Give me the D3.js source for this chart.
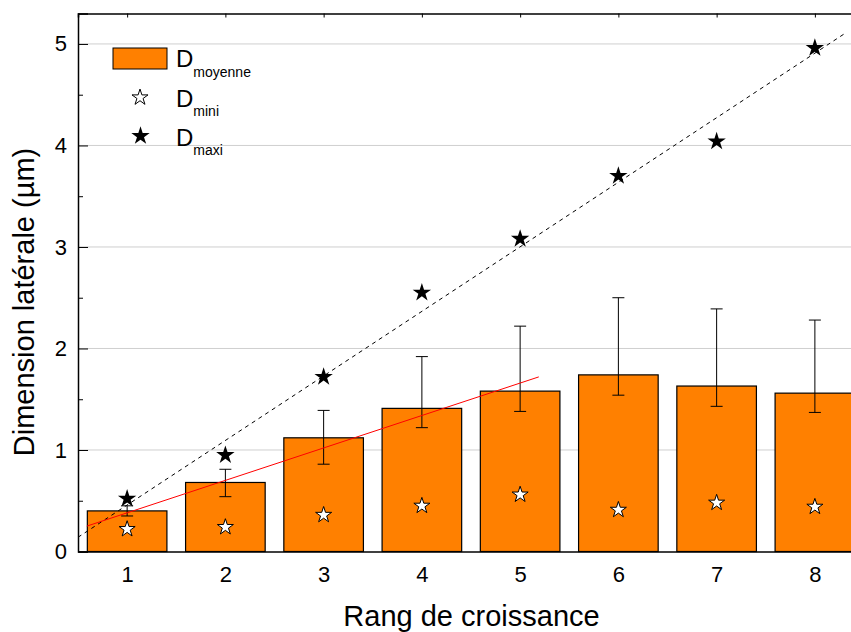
<!DOCTYPE html>
<html>
<head>
<meta charset="utf-8">
<script src="https://cdn.jsdelivr.net/npm/d3@7"></script>
<style>
  body { margin: 0; background: #fff; }
  svg { display: block; font-family: "Liberation Sans", Arial, sans-serif; }
</style>
</head>
<body>
<div id="chart"></div>
<script>
// Rang de croissance vs dimension laterale
var rangs = [1, 2, 3, 4, 5, 6, 7, 8];
var dMoyenne = [0.40, 0.68, 1.12, 1.41, 1.58, 1.74, 1.63, 1.56];
var errHaut = [0.45, 0.81, 1.39, 1.92, 2.22, 2.50, 2.39, 2.28];
var errBas = [0.35, 0.54, 0.86, 1.22, 1.38, 1.54, 1.43, 1.37];
var dMini = [0.22, 0.24, 0.36, 0.45, 0.56, 0.41, 0.48, 0.44];
var dMaxi = [0.52, 0.95, 1.72, 2.55, 3.08, 3.70, 4.04, 4.96];
// fit lines, end points
var fitMaxi = [[0.5, 0.14], [8.3, 5.10]];
var fitMoyenne = [[0.59, 0.25], [5.19, 1.72]];
var yTicks = [0, 1, 2, 3, 4, 5];
var yMinorTicks = [0.5, 1.5, 2.5, 3.5, 4.5];

var W = 851, H = 632;
var mLeft = 78, mTop = 13.5, mBottom = 551.5, mRight = 864;

var svg = d3.select("#chart").append("svg")
    .attr("width", W)
    .attr("height", H);

var x = d3.scaleLinear().domain([0.5, 8.5]).range([mLeft, mRight]);
var y = d3.scaleLinear().domain([0, 5.3]).range([mBottom, mTop]);
var barW = (x(1.81) - x(1));

// gridlines
svg.append("g").selectAll("line")
    .data(yTicks.filter(function(d) { return d > 0; }))
    .enter().append("line")
    .attr("x1", mLeft).attr("x2", mRight)
    .attr("y1", function(d) { return y(d); })
    .attr("y2", function(d) { return y(d); })
    .style("stroke", "#cfcfcf")
    .style("stroke-width", 1);

// bars
svg.append("g").selectAll("rect")
    .data(rangs)
    .enter().append("rect")
    .attr("x", function(d) { return x(d) - barW / 2; })
    .attr("y", function(d, i) { return y(dMoyenne[i]); })
    .attr("width", barW)
    .attr("height", function(d, i) { return y(0) - y(dMoyenne[i]); })
    .style("fill", "#ff8000")
    .style("stroke", "#000")
    .style("stroke-width", 1.2);

// error bars
var err = svg.append("g").selectAll("g")
    .data(rangs)
    .enter().append("g")
    .style("stroke", "#000")
    .style("stroke-width", 1);
err.append("line")
    .attr("x1", function(d) { return x(d); })
    .attr("x2", function(d) { return x(d); })
    .attr("y1", function(d, i) { return y(errHaut[i]); })
    .attr("y2", function(d, i) { return y(errBas[i]); });
err.append("line")
    .attr("x1", function(d) { return x(d) - 6; })
    .attr("x2", function(d) { return x(d) + 6; })
    .attr("y1", function(d, i) { return y(errHaut[i]); })
    .attr("y2", function(d, i) { return y(errHaut[i]); });
err.append("line")
    .attr("x1", function(d) { return x(d) - 6; })
    .attr("x2", function(d) { return x(d) + 6; })
    .attr("y1", function(d, i) { return y(errBas[i]); })
    .attr("y2", function(d, i) { return y(errBas[i]); });

// fit lines
var line = d3.line()
    .x(function(d) { return x(d[0]); })
    .y(function(d) { return y(d[1]); });

svg.append("path")
    .attr("d", line(fitMaxi))
    .style("fill", "none")
    .style("stroke", "#000")
    .style("stroke-width", 1)
    .style("stroke-dasharray", "4,4");

svg.append("path")
    .attr("d", line(fitMoyenne))
    .style("fill", "none")
    .style("stroke", "#ff0000")
    .style("stroke-width", 1);

// stars
var starBig = d3.symbol().type(d3.symbolStar).size(105);
var starSmall = d3.symbol().type(d3.symbolStar).size(80);

svg.append("g").selectAll("path")
    .data(rangs)
    .enter().append("path")
    .attr("d", starSmall)
    .attr("transform", function(d, i) { return "translate(" + x(d) + "," + y(dMini[i]) + ")"; })
    .style("fill", "#fff")
    .style("stroke", "#000")
    .style("stroke-width", 1);

svg.append("g").selectAll("path")
    .data(rangs)
    .enter().append("path")
    .attr("d", starBig)
    .attr("transform", function(d, i) { return "translate(" + x(d) + "," + y(dMaxi[i]) + ")"; })
    .style("fill", "#000");

// axes
var yAxis = svg.append("g")
    .attr("transform", "translate(" + mLeft + ",0)")
    .call(d3.axisLeft(y).tickValues(yTicks).tickSize(-10).tickPadding(11).tickFormat(d3.format("d")));
svg.append("g")
    .attr("transform", "translate(" + mLeft + ",0)")
    .call(d3.axisLeft(y).tickValues(yMinorTicks).tickSize(-5).tickFormat(""))
    .select(".domain").remove();

var xAxis = svg.append("g")
    .attr("transform", "translate(0," + mBottom + ")")
    .call(d3.axisBottom(x).tickValues(rangs).tickSize(0).tickPadding(15).tickFormat(d3.format("d")));

var xTop = svg.append("g")
    .attr("transform", "translate(0," + mTop + ")")
    .call(d3.axisTop(x).tickValues(rangs).tickSize(-4).tickFormat(""));

svg.selectAll(".domain").style("stroke", "#000").style("stroke-width", 1.5);
svg.selectAll(".tick line").style("stroke", "#000").style("stroke-width", 1);
yAxis.selectAll("text").style("font-size", "22px").style("fill", "#000");
xAxis.selectAll("text").style("font-size", "22px").style("fill", "#000");

// axis titles
svg.append("text")
    .attr("x", 471.5)
    .attr("y", 626)
    .attr("text-anchor", "middle")
    .style("font-size", "29px")
    .text("Rang de croissance");

svg.append("text")
    .attr("transform", "translate(34," + 302 + ") rotate(-90)")
    .attr("text-anchor", "middle")
    .style("font-size", "29px")
    .text("Dimension latérale (µm)");

// legend
var legendItems = ["moyenne", "mini", "maxi"];
var legendBase = [67, 106.5, 145.5];

svg.append("rect")
    .attr("x", 113).attr("y", 48)
    .attr("width", 54).attr("height", 21)
    .style("fill", "#ff8000")
    .style("stroke", "#000")
    .style("stroke-width", 1);

svg.append("path")
    .attr("d", starSmall)
    .attr("transform", "translate(140,97.5)")
    .style("fill", "#fff")
    .style("stroke", "#000")
    .style("stroke-width", 1);

svg.append("path")
    .attr("d", starBig)
    .attr("transform", "translate(140.5,136)")
    .style("fill", "#000");

var legText = svg.append("g").selectAll("text")
    .data(legendItems)
    .enter().append("text")
    .attr("x", 176)
    .attr("y", function(d, i) { return legendBase[i]; })
    .style("font-size", "24px");
legText.append("tspan").text("D");
legText.append("tspan")
    .attr("dy", 9.5)
    .style("font-size", "14px")
    .text(function(d) { return d; });
</script>
</body>
</html>
